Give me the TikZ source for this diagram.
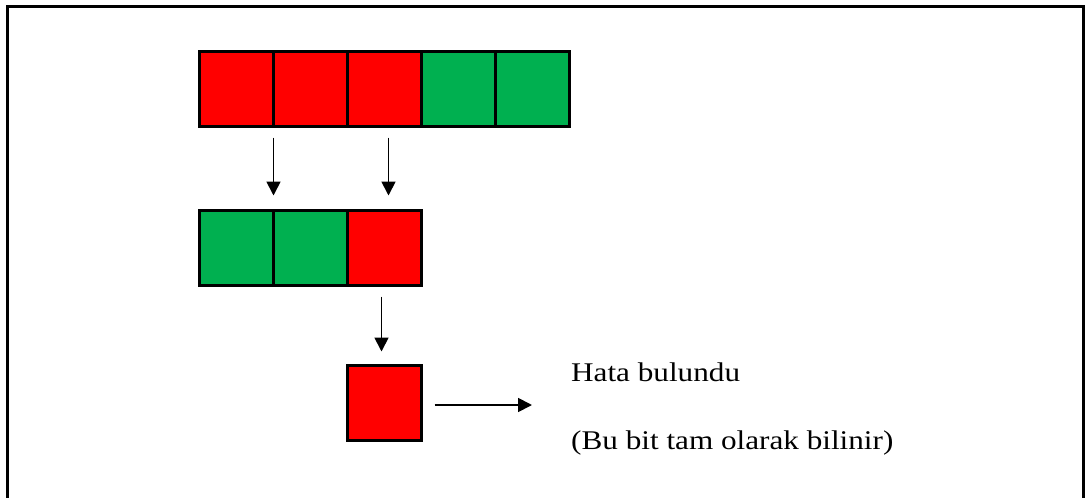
\documentclass[tikz,border=0pt]{standalone}
\usepackage{fontspec}
\setmainfont{Liberation Serif}
\usetikzlibrary{arrows.meta,calc}
\definecolor{cred}{RGB}{255,0,0}
\definecolor{cgreen}{RGB}{0,176,80}
\tikzset{
  cell/.style={draw=black,line width=2.2pt,minimum width=74pt,minimum height=75pt,inner sep=0pt,outer sep=0pt},
  rc/.style={cell,fill=cred},
  gc/.style={cell,fill=cgreen},
  arr/.style={line width=1.8pt,-{Triangle[length=14pt,width=14pt]}},
  lbl/.style={anchor=base west,inner sep=0pt,font=\fontsize{27}{30}\selectfont}
}
\begin{document}
\begin{tikzpicture}[x=1pt,y=-1pt]
\useasboundingbox (0,0) rectangle (1088,498);
\fill[white] (0,0) rectangle (1088,498);
\draw[line width=3pt] (7,498) -- (7,6) -- (1083,6) -- (1083,498);
% top row
\node[rc] (t1) at (236.5,89) {};
\node[rc] (t2) at (310.5,89) {};
\node[rc] (t3) at (384.5,89) {};
\node[gc] (t4) at (458.5,89) {};
\node[gc] (t5) at (532.5,89) {};
% middle row
\node[gc] (m1) at (236.5,248) {};
\node[gc] (m2) at (310.5,248) {};
\node[rc] (m3) at (384.5,248) {};
% single
\node[rc] (s1) at (384.5,403) {};
% arrows
\draw[arr] ([yshift=-11pt]t1.south east) -- ([yshift=15pt]m1.north east);
\draw[arr] ([xshift=4pt,yshift=-11pt]t3.south) -- ([xshift=4pt,yshift=15pt]m3.north);
\draw[arr] ([xshift=-3pt,yshift=-11pt]m3.south) -- ([xshift=-3pt,yshift=14pt]s1.north);
\coordinate (e) at (532,405);
\draw[arr] ([xshift=13pt,yshift=-2pt]s1.east) -- (e);
% labels
\node[lbl] (h) at (571,381) {\scalebox{1.155}[1]{Hata bulundu}};
\node[lbl] (b) at (571,449) {\scalebox{1.155}[1]{(Bu bit tam olarak bilinir)}};
\end{tikzpicture}
\end{document}
